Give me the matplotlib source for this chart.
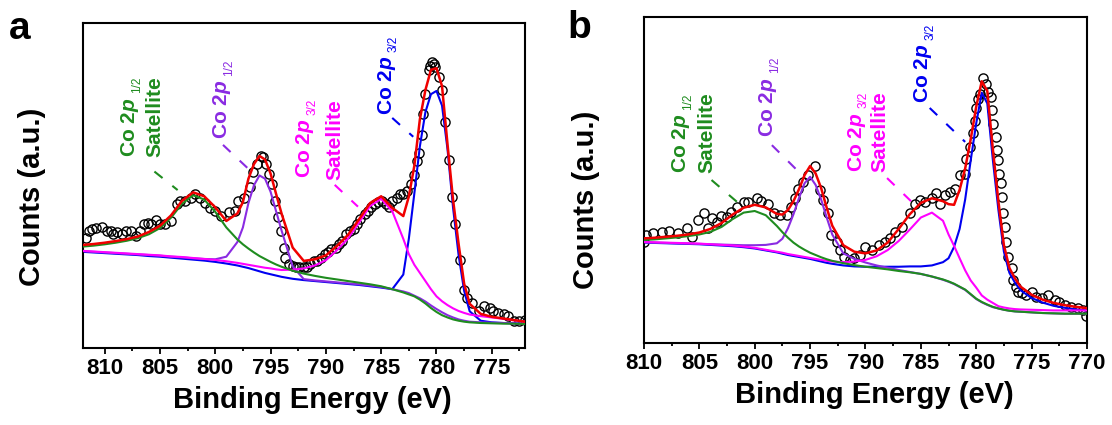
import numpy as np
import matplotlib
matplotlib.use("Agg")
import matplotlib.pyplot as plt
from matplotlib.ticker import MultipleLocator

# ======================================================
# Co 2p XPS spectra, panels a and b (y axis in arbitrary units)
# ======================================================
plt.rcParams["font.family"] = ["Liberation Sans", "DejaVu Sans"]
plt.rcParams["mathtext.fontset"] = "custom"
plt.rcParams["mathtext.it"] = "Liberation Sans:italic:bold"
plt.rcParams["mathtext.rm"] = "Liberation Sans:bold"
plt.rcParams["mathtext.bf"] = "Liberation Sans:bold"

GREEN = "#1f8c1f"
VIOLET = "#8a2be2"
MAGENTA = "#ff00ff"
BLUE = "#0000f0"
RED = "#f00000"

# ---------------- panel a ----------------
A_GRID = [812, 811, 810, 809, 808, 807, 806, 805, 804, 803, 802, 801, 800, 799, 798,
          797.5, 797, 796.5, 796, 795.5, 795, 794.5, 794,
          793, 792, 791, 790, 789, 788, 787, 786, 785, 784, 783,
          782.5, 782, 781.5, 781, 780.5, 780, 779.5, 779, 778.5, 778, 777.5, 777,
          776, 775, 774, 773, 772]
A_GREEN = [31.1, 31.4, 31.8, 32.3, 32.9, 33.7, 34.9, 36.8, 40.0, 44.3, 46.9, 45.6, 41.8, 37.0, 33.3,
           31.8, 30.5, 29.3, 28.2, 27.3, 26.4, 25.6, 24.9,
           23.7, 22.8, 22.1, 21.5, 21.0, 20.5, 20.0, 19.5, 18.9, 18.0, 17.0,
           16.4, 15.8, 14.8, 13.6, 12.2, 11.0, 10.0, 9.3, 8.7, 8.3, 8.0, 7.8,
           7.6, 7.5, 7.4, 7.4, 7.3]
A_VIOLET = [29.7, 29.5, 29.3, 29.1, 28.9, 28.7, 28.5, 28.3, 28.0, 27.8, 27.5, 27.3, 27.2, 28.0, 32.5,
            37.0, 44.5, 50.0, 53.0, 52.0, 48.0, 42.0, 36.0,
            25.0, 21.1, 20.7, 20.4, 20.1, 19.8, 19.5, 19.1, 18.7, 18.0, 17.3,
            16.8, 16.0, 15.2, 14.2, 13.0, 11.9, 10.9, 10.0, 9.3, 8.7, 8.3, 8.0,
            7.8, 7.7, 7.6, 7.5, 7.4]
A_MAGENTA = [29.8, 29.6, 29.4, 29.2, 29.0, 28.8, 28.6, 28.4, 28.1, 27.9, 27.6, 27.3, 27.0, 26.6, 26.1,
             25.8, 25.5, 25.2, 24.9, 24.6, 24.4, 24.1, 23.9,
             24.0, 24.4, 25.3, 26.9, 30.0, 33.6, 38.5, 43.6, 45.8, 42.0, 33.5,
             28.8, 25.5, 23.0, 20.5, 18.0, 15.8, 14.3, 13.1, 12.1, 11.3, 10.7, 10.2,
             9.7, 9.3, 8.9, 8.4, 8.0]
A_BLUE = [29.5, 29.3, 29.1, 28.9, 28.7, 28.5, 28.2, 28.0, 27.7, 27.4, 27.1, 26.8, 26.4, 25.9, 25.3,
          24.9, 24.5, 24.0, 23.5, 23.0, 22.6, 22.2, 21.8,
          21.2, 20.8, 20.5, 20.2, 19.9, 19.6, 19.3, 18.9, 18.5, 18.0, 22.5,
          33.5, 47.5, 62.0, 72.5, 78.0, 79.0, 74.5, 61.0, 43.0, 28.5, 17.5, 11.2,
          8.3, 7.8, 7.6, 7.5, 7.4]
A_RED = [31.6, 31.9, 32.3, 32.8, 33.4, 34.2, 35.6, 37.5, 40.7, 45.2, 47.8, 46.6, 43.2, 39.0, 41.3,
         44.8, 52.0, 56.5, 59.0, 57.9, 53.6, 47.3, 41.2,
         30.8, 26.7, 27.2, 28.4, 31.3, 34.7, 39.5, 44.5, 46.6, 43.0, 40.5,
         46.5, 56.0, 70.3, 79.3, 85.5, 86.0, 80.5, 62.5, 45.5, 31.9, 19.7, 13.5,
         10.4, 9.5, 9.0, 8.5, 8.0]
A_DATA_E = [811.7, 811.4, 811.1, 810.8, 810.2, 809.8, 809.4, 809.2, 808.9, 808.4, 808.1, 807.6, 807.2,
            806.8, 806.4, 806.1, 805.8, 805.4, 805.0, 804.5, 804.0, 803.5, 803.2, 802.7, 802.2,
            801.8, 801.4, 800.9, 800.5, 800.0, 799.5, 798.8, 798.2, 797.9, 797.4, 796.9, 796.6,
            796.2, 795.9, 795.7, 795.4, 795.1, 794.9, 794.6, 794.3, 794.1, 793.8, 793.7, 793.3,
            793.0, 792.7, 792.4, 792.0, 791.7, 791.4, 791.1, 790.8, 790.4, 790.1, 789.8, 789.5,
            789.1, 788.8, 788.5, 788.2, 787.8, 787.5, 787.2, 786.9, 786.5, 786.2, 785.9, 785.6,
            785.3, 784.9, 784.6, 784.3, 784.0, 783.6, 783.3, 783.0, 782.7, 782.3, 782.0, 781.8,
            781.6, 781.3, 781.2, 781.0, 780.7, 780.6, 780.4, 780.2, 780.1, 779.8, 779.5, 779.2,
            778.9, 778.6, 778.3, 777.9, 777.5, 777.2, 776.8, 776.2, 775.7, 775.2, 774.9, 774.4,
            773.9, 773.5, 773.0, 772.5, 772.0]
A_DATA_Y = [33.7, 36.0, 36.5, 36.8, 37.0, 36.0, 36.0, 34.9, 35.5, 34.9, 36.0, 36.0, 34.4,
            36.0, 38.2, 38.5, 38.2, 39.4, 38.2, 38.0, 39.1, 44.2, 45.2, 45.2, 46.2,
            47.3, 46.2, 44.4, 43.0, 42.1, 40.6, 41.9, 42.1, 45.2, 46.2, 49.3, 54.0,
            56.5, 59.1, 58.6, 56.5, 53.4, 50.4, 45.2, 40.1, 36.0, 30.8, 27.7, 25.7,
            25.2, 24.7, 24.9, 24.7, 24.7, 25.7, 26.7, 26.7, 27.7, 28.8, 29.3, 30.3,
            30.8, 31.9, 32.9, 34.9, 36.0, 36.5, 38.0, 39.6, 41.1, 42.1, 43.2, 44.2,
            44.7, 45.2, 44.2, 43.2, 45.2, 46.2, 47.3, 47.3, 48.3, 50.4, 53.0, 57.5,
            60.0, 65.4, 72.0, 78.0, 85.3, 86.8, 87.9, 87.4, 86.3, 83.2, 79.3, 69.5,
            57.8, 46.5, 38.2, 27.0, 17.8, 15.4, 13.9, 11.3, 12.8, 12.3, 11.3, 10.8,
            10.3, 9.8, 8.2, 8.2, 8.4]

# ---------------- panel b ----------------
B_GRID = [810, 809, 808, 807, 806, 805, 804, 803, 802, 801, 800, 799, 798,
          797.5, 797, 796.5, 796, 795.5, 795, 794.5, 794, 793.5, 793,
          792, 791, 790, 789, 788, 787, 786, 785, 784, 783,
          782.5, 782, 781.5, 781, 780.5, 780, 779.5, 779, 778.5, 778, 777.5, 777, 776.5,
          776, 775, 774, 773, 772, 771, 770]
B_GREEN = [31.6, 31.8, 32.1, 32.4, 32.8, 33.3, 34.1, 35.6, 38.0, 40.0, 40.5, 39.2, 35.9,
           34.0, 32.3, 30.8, 29.6, 28.6, 27.7, 27.0, 26.3, 25.7, 25.2,
           24.5, 23.9, 23.4, 23.0, 22.6, 22.1, 21.7, 21.2, 20.4, 19.5,
           18.9, 18.2, 17.3, 16.4, 15.0, 13.6, 12.6, 11.8, 11.1, 10.6, 10.2, 9.9, 9.7,
           9.6, 9.4, 9.2, 9.1, 9.0, 9.0, 9.0]
B_VIOLET = [30.9, 30.8, 30.7, 30.6, 30.5, 30.4, 30.3, 30.2, 30.1, 30.0, 30.0, 30.1, 30.6,
            32.0, 35.2, 39.5, 44.5, 49.0, 51.0, 48.5, 44.0, 38.5, 33.3,
            27.5, 25.8, 24.7, 23.8, 23.1, 22.4, 21.8, 21.2, 20.4, 19.4,
            18.8, 18.1, 17.2, 16.3, 14.9, 13.5, 12.5, 11.7, 11.0, 10.6, 10.2, 9.9, 9.7,
            9.6, 9.4, 9.2, 9.1, 9.0, 9.0, 9.0]
B_MAGENTA = [31.0, 30.9, 30.8, 30.7, 30.6, 30.5, 30.3, 30.1, 29.9, 29.6, 29.2, 28.6, 28.0,
             27.7, 27.3, 27.0, 26.7, 26.4, 26.1, 25.8, 25.5, 25.2, 25.0,
             24.8, 25.0, 25.5, 26.6, 28.5, 31.3, 34.8, 38.5, 40.0, 37.5,
             33.3, 29.8, 26.0, 22.3, 19.2, 17.0, 14.6, 13.3, 12.3, 11.3, 10.9, 10.6, 10.4,
             10.3, 10.2, 10.1, 10.0, 10.0, 10.0, 10.0]
B_BLUE = [30.8, 30.7, 30.6, 30.5, 30.4, 30.3, 30.1, 29.9, 29.7, 29.4, 29.0, 28.4, 27.8,
          27.4, 27.0, 26.7, 26.4, 26.1, 25.8, 25.4, 25.0, 24.6, 24.3,
          23.8, 23.5, 23.4, 23.4, 23.4, 23.4, 23.5, 23.5, 23.8, 24.8,
          26.0, 29.5, 35.0, 44.0, 56.0, 67.4, 76.8, 73.5, 56.2, 40.9, 28.0, 21.5, 18.5,
          16.2, 13.8, 12.4, 11.4, 10.8, 10.3, 10.0]
B_RED = [32.1, 32.3, 32.6, 32.9, 33.3, 33.9, 35.0, 36.8, 39.4, 41.5, 42.4, 41.6, 39.6,
         39.4, 40.8, 43.5, 47.2, 51.5, 54.3, 52.0, 47.5, 41.5, 36.0,
         30.0, 28.0, 27.5, 28.4, 30.8, 35.0, 39.5, 43.0, 44.4, 43.5,
         42.6, 42.4, 47.0, 53.5, 62.5, 72.5, 80.3, 77.3, 59.5, 43.5, 30.0, 23.0, 19.8,
         17.3, 14.8, 13.3, 12.3, 11.6, 11.1, 10.7]
B_DATA_E = [810.0, 809.8, 809.2, 808.4, 807.7, 806.9, 806.1, 805.7, 805.1, 804.6, 804.2, 803.9,
            803.4, 803.0, 802.5, 802.1, 801.6, 801.0, 800.6, 799.8, 799.4, 798.8, 798.3, 797.7,
            797.1, 796.7, 796.4, 796.1, 795.6, 795.2, 794.6, 794.1, 793.8, 793.4, 793.1, 792.6,
            792.3, 791.9, 791.4, 791.0, 790.5, 790.0, 789.4, 788.8, 788.2, 787.8, 787.3, 786.7,
            786.0, 785.5, 785.1, 784.6, 784.0, 783.6, 783.3, 782.8, 782.4, 781.9, 781.5, 781.0,
            780.9, 780.6, 780.3, 780.15, 780.0, 779.85, 779.7, 779.4, 779.1, 778.9, 778.65, 778.55,
            778.45, 778.25, 778.15, 778.0, 777.9, 777.75, 777.7, 777.6, 777.4, 777.3, 777.1, 776.8,
            776.7, 776.4, 776.2, 775.9, 775.5, 775.0, 774.6, 774.1, 773.5, 772.9, 772.5, 772.0,
            771.4, 770.8, 770.4, 770.1]
B_DATA_Y = [31.0, 33.1, 33.6, 34.1, 34.4, 33.6, 35.4, 32.6, 37.7, 39.8, 35.2, 38.2,
            37.2, 39.0, 38.8, 40.3, 41.8, 43.4, 43.4, 44.4, 43.7, 42.6, 39.8, 39.3,
            39.3, 41.8, 44.4, 47.4, 49.5, 51.5, 54.3, 46.9, 43.8, 39.8, 33.1, 31.1,
            28.5, 26.5, 25.6, 26.0, 27.0, 29.4, 28.6, 30.1, 31.1, 32.1, 34.1, 35.7,
            39.8, 42.8, 43.8, 43.3, 44.4, 45.9, 42.8, 45.4, 46.4, 47.4, 51.5, 52.0,
            56.6, 60.2, 64.3, 68.0, 72.0, 75.0, 76.5, 81.2, 79.6, 77.1, 75.5, 71.4,
            67.3, 63.2, 59.2, 56.1, 52.0, 49.0, 44.9, 39.8, 35.7, 31.1, 26.5, 22.9,
            19.3, 17.3, 15.7, 15.2, 14.7, 15.7, 14.2, 13.7, 14.7, 13.2, 12.7, 11.7,
            11.2, 10.7, 10.2, 8.2]

TICK_FS = 16
LABEL_FS = 21
PEAK_FS = 15


def draw_spectrum(ax, grid, green, violet, magenta, blue, red, data_e, data_y, xlim):
    ax.plot(data_e, data_y, "o", ms=6.6, mfc="none", mec="black", mew=1.0, zorder=1)
    ax.plot(grid, blue, color=BLUE, lw=1.5, zorder=2)
    ax.plot(grid, violet, color=VIOLET, lw=1.5, zorder=3)
    ax.plot(grid, magenta, color=MAGENTA, lw=1.5, zorder=4)
    ax.plot(grid, green, color=GREEN, lw=1.5, zorder=5)
    ax.plot(grid, red, color=RED, lw=1.8, zorder=6)

    ax.set_xlim(*xlim)
    ax.set_ylim(0, 100)
    ax.set_yticks([])
    ax.xaxis.set_major_locator(MultipleLocator(5))
    ax.xaxis.set_minor_locator(MultipleLocator(2.5))
    ax.tick_params(axis="x", which="major", direction="out", length=4.2, width=1.3,
                   labelsize=TICK_FS, pad=3)
    ax.tick_params(axis="x", which="minor", direction="out", length=2.5, width=1.3)
    for lab in ax.get_xticklabels():
        lab.set_fontweight("bold")
    for sp in ax.spines.values():
        sp.set_linewidth(1.5)


def peak_label(ax, x, y, sub, color):
    t = ax.text(x, y, r"Co 2$\mathit{p}$", color=color, rotation=90, ha="center", va="bottom",
                fontsize=PEAK_FS, fontweight="bold", zorder=7)
    # small "1/2" / "3/2" index sitting just past the p, on the baseline side
    ax.annotate(sub, xy=(1, 1), xycoords=t, xytext=(1.5, 3), textcoords="offset points",
                rotation=90, ha="right", va="bottom", fontsize=8.5, color=color, zorder=7)


def satellite(ax, x, y, color):
    ax.text(x, y, "Satellite", color=color, rotation=90, ha="center", va="bottom",
            fontsize=PEAK_FS, fontweight="bold", zorder=7)


def leader(ax, x0, y0, x1, y1, color):
    ax.plot([x0, x1], [y0, y1], color=color, lw=1.5, linestyle=(0, (5, 6)), zorder=7)


fig = plt.figure(figsize=(11.12, 4.25), dpi=100)
ax_a = fig.add_axes([0.0742, 0.1819, 0.3979, 0.7647])
ax_b = fig.add_axes([0.5791, 0.1929, 0.3984, 0.767])

draw_spectrum(ax_a, A_GRID, A_GREEN, A_VIOLET, A_MAGENTA, A_BLUE, A_RED, A_DATA_E, A_DATA_Y, (812, 772))
draw_spectrum(ax_b, B_GRID, B_GREEN, B_VIOLET, B_MAGENTA, B_BLUE, B_RED, B_DATA_E, B_DATA_Y, (810, 770))

# labels, panel a
peak_label(ax_a, 807.7, 58.7, "1/2", GREEN)
satellite(ax_a, 805.45, 58.7, GREEN)
leader(ax_a, 805.5, 54.2, 803.4, 48.5, GREEN)
peak_label(ax_a, 799.4, 64.2, "1/2", VIOLET)
leader(ax_a, 799.3, 62.4, 796.9, 54.7, VIOLET)
peak_label(ax_a, 791.85, 52.1, "3/2", MAGENTA)
satellite(ax_a, 789.2, 51.6, MAGENTA)
leader(ax_a, 789.2, 50.1, 787.1, 43.4, MAGENTA)
peak_label(ax_a, 784.5, 71.6, "3/2", BLUE)
leader(ax_a, 784.0, 70.7, 782.1, 64.9, BLUE)

# labels, panel b
peak_label(ax_b, 806.7, 52.1, "1/2", GREEN)
satellite(ax_b, 804.35, 52.1, GREEN)
leader(ax_b, 803.9, 50.0, 801.6, 43.3, GREEN)
peak_label(ax_b, 798.8, 63.3, "1/2", VIOLET)
leader(ax_b, 798.45, 60.7, 796.2, 53.1, VIOLET)
peak_label(ax_b, 790.8, 52.5, "3/2", MAGENTA)
satellite(ax_b, 788.7, 52.5, MAGENTA)
leader(ax_b, 788.05, 50.6, 785.7, 42.9, MAGENTA)
peak_label(ax_b, 784.8, 73.5, "3/2", BLUE)
leader(ax_b, 784.2, 72.1, 781.0, 61.7, BLUE)

for ax, ylab_x, ylab_y in ((ax_a, -0.083, 0.464), (ax_b, -0.100, 0.44)):
    ax.set_xlabel("Binding Energy (eV)", fontsize=LABEL_FS, fontweight="bold")
    ax.xaxis.set_label_coords(0.52, -0.118)
    ax.set_ylabel("Counts (a.u.)", fontsize=LABEL_FS, fontweight="bold")
    ax.yaxis.set_label_coords(ylab_x, ylab_y)

fig.text(9 / 1112, 1 - 39 / 425, "a", fontsize=28, fontweight="bold", va="baseline")
fig.text(567 / 1112, 1 - 38 / 425, "b", fontsize=28, fontweight="bold", va="baseline")

fig.savefig("out.png", dpi=100)
